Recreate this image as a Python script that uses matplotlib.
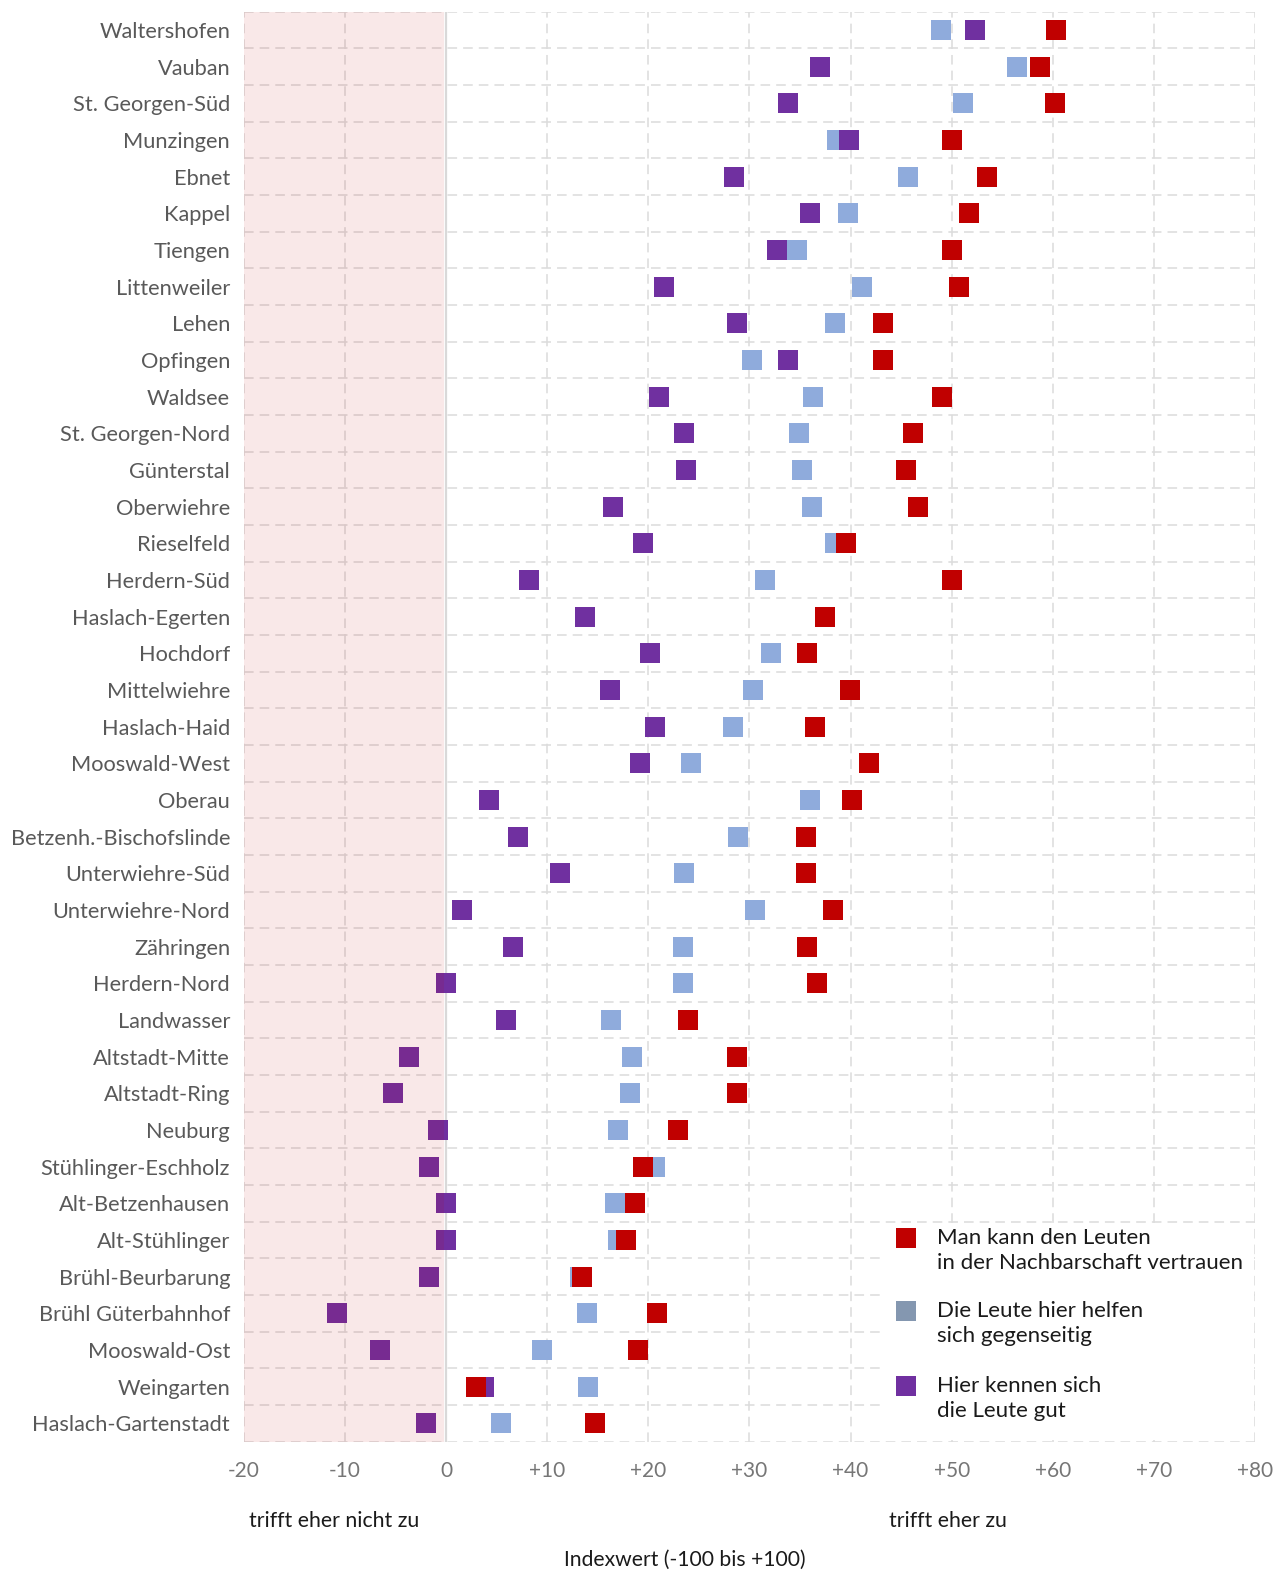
import matplotlib
matplotlib.use("Agg")
import matplotlib.pyplot as plt
from matplotlib.lines import Line2D
from matplotlib.patches import Rectangle
import numpy as np

plt.rcParams['font.family'] = ['Lato', 'DejaVu Sans']

categories = ["Waltershofen", "Vauban", "St. Georgen-Süd", "Munzingen", "Ebnet", "Kappel",
              "Tiengen", "Littenweiler", "Lehen", "Opfingen", "Waldsee", "St. Georgen-Nord",
              "Günterstal", "Oberwiehre", "Rieselfeld", "Herdern-Süd", "Haslach-Egerten",
              "Hochdorf", "Mittelwiehre", "Haslach-Haid", "Mooswald-West", "Oberau",
              "Betzenh.-Bischofslinde", "Unterwiehre-Süd", "Unterwiehre-Nord", "Zähringen",
              "Herdern-Nord", "Landwasser", "Altstadt-Mitte", "Altstadt-Ring", "Neuburg",
              "Stühlinger-Eschholz", "Alt-Betzenhausen", "Alt-Stühlinger", "Brühl-Beurbarung",
              "Brühl Güterbahnhof", "Mooswald-Ost", "Weingarten", "Haslach-Gartenstadt"]

vertrauen = [60.3, 58.7, 60.2, 50.0, 53.5, 51.7, 50.0, 50.7, 43.2, 43.2, 49.0, 46.2, 45.5,
             46.7, 39.5, 50.0, 37.5, 35.7, 39.9, 36.5, 41.8, 40.1, 35.6, 35.6, 38.3, 35.7,
             36.7, 23.9, 28.8, 28.8, 22.9, 19.5, 18.65, 17.8, 13.4, 20.9, 18.95, 2.95, 14.7]

helfen = [48.9, 56.5, 51.1, 38.7, 45.7, 39.7, 34.7, 41.1, 38.5, 30.2, 36.3, 34.9, 35.2,
          36.2, 38.5, 31.5, 37.5, 32.1, 30.3, 28.4, 24.2, 36.0, 28.9, 23.5, 30.5, 23.4,
          23.4, 16.3, 18.4, 18.2, 17.0, 20.7, 16.7, 17.0, 13.2, 13.9, 9.5, 14.0, 5.4]

kennen = [52.3, 37.0, 33.8, 39.8, 28.5, 36.0, 32.7, 21.5, 28.8, 33.8, 21.0, 23.5, 23.7,
          16.5, 19.5, 8.2, 13.7, 20.2, 16.2, 20.7, 19.2, 4.2, 7.1, 11.25, 1.56, 6.6,
          0.0, 5.9, -3.7, -5.25, -0.8, -1.7, 0.0, 0.0, -1.7, -10.8, -6.55, 3.7, -2.0]

xticks = [-20, -10, 0, 10, 20, 30, 40, 50, 60, 70, 80]
xticklabels = ["-20", "-10", "0", "+10", "+20", "+30", "+40", "+50", "+60", "+70", "+80"]

legend_labels = ["Man kann den Leuten\nin der Nachbarschaft vertrauen",
                 "Die Leute hier helfen\nsich gegenseitig",
                 "Hier kennen sich\ndie Leute gut"]

c_red = "#C00000"
c_blue = "#8FABDC"
c_blue_leg = "#8497B0"
c_purple = "#7030A0"

W, H = 1277, 1571
fig = plt.figure(figsize=(W / 100, H / 100), dpi=100)
ax = fig.add_axes([244 / W, 1 - 1441.7 / H, (1255 - 244) / W, (1441.7 - 11.7) / H])

y = np.arange(len(categories))
ms = 15.1
ax.plot(helfen, y, linestyle='none', marker='s', ms=ms, mew=0, color=c_blue, zorder=3)
ax.plot(kennen, y, linestyle='none', marker='s', ms=ms, mew=0, color=c_purple, zorder=3)
ax.plot(vertrauen, y, linestyle='none', marker='s', ms=ms, mew=0, color=c_red, zorder=3)

ax.axvspan(-20, -0.25, color="#C00000", alpha=0.09, lw=0, zorder=4)
ax.axvline(0, color="#D9D9D9", lw=1.6, zorder=2)

ax.set_xlim(-20, 80)
ax.set_ylim(len(categories) - 0.5, -0.5)

ax.set_xticks(xticks)
ax.set_xticklabels(xticklabels)
ax.set_yticks(y)
ax.set_yticklabels(categories)

dash = (0, (6.0, 3.8))
ax.grid(False)
for xv in xticks:
    ax.axvline(xv, color="#DCDCDC", lw=1.15, linestyle=dash, zorder=1)
for yv in np.arange(-0.5, len(categories), 1.0):
    ax.axhline(yv, color="#DCDCDC", lw=1.15, linestyle=dash, zorder=1)

for s in ax.spines.values():
    s.set_visible(False)
ax.tick_params(axis='both', which='both', length=0)
ax.tick_params(axis='y', labelsize=15.7, labelcolor="#595959", pad=10)
ax.tick_params(axis='x', labelsize=15, labelcolor="#767676", pad=14)

# legend (manual)
lx0, ly0, lx1, ly1 = 885, 1223, 1254, 1440
ax.add_patch(Rectangle(((lx0 - 244) / (1255 - 244), 1 - (ly1 - 11.7) / 1430),
                       (lx1 - lx0) / (1255 - 244), (ly1 - ly0) / 1430,
                       transform=ax.transAxes, facecolor="white", edgecolor="none", zorder=5))
leg_colors = [c_red, c_blue_leg, c_purple]
leg_y = [1238, 1311, 1386]
for col, lab, yy in zip(leg_colors, legend_labels, leg_y):
    fy = 1 - yy / H
    fig.add_artist(Line2D([906 / W], [fy], marker='s', ms=15.1, mew=0, color=col,
                          linestyle='none', transform=fig.transFigure, zorder=6))
    fig.text(937 / W, 1 - (yy - 10) / H, lab, ha='left', va='top', fontsize=16,
             color="#1A1A1A", linespacing=1.3, zorder=6)

fig.text(249 / W, 1 - 1521 / H, "trifft eher nicht zu", ha='left', va='center',
         fontsize=15.3, color="#1A1A1A")
fig.text(889 / W, 1 - 1521 / H, "trifft eher zu", ha='left', va='center',
         fontsize=15.3, color="#1A1A1A")
fig.text(685 / W, 1 - 1560 / H, "Indexwert (-100 bis +100)", ha='center', va='center',
         fontsize=15.2, color="#1A1A1A")

fig.savefig("out.png", dpi=100)
